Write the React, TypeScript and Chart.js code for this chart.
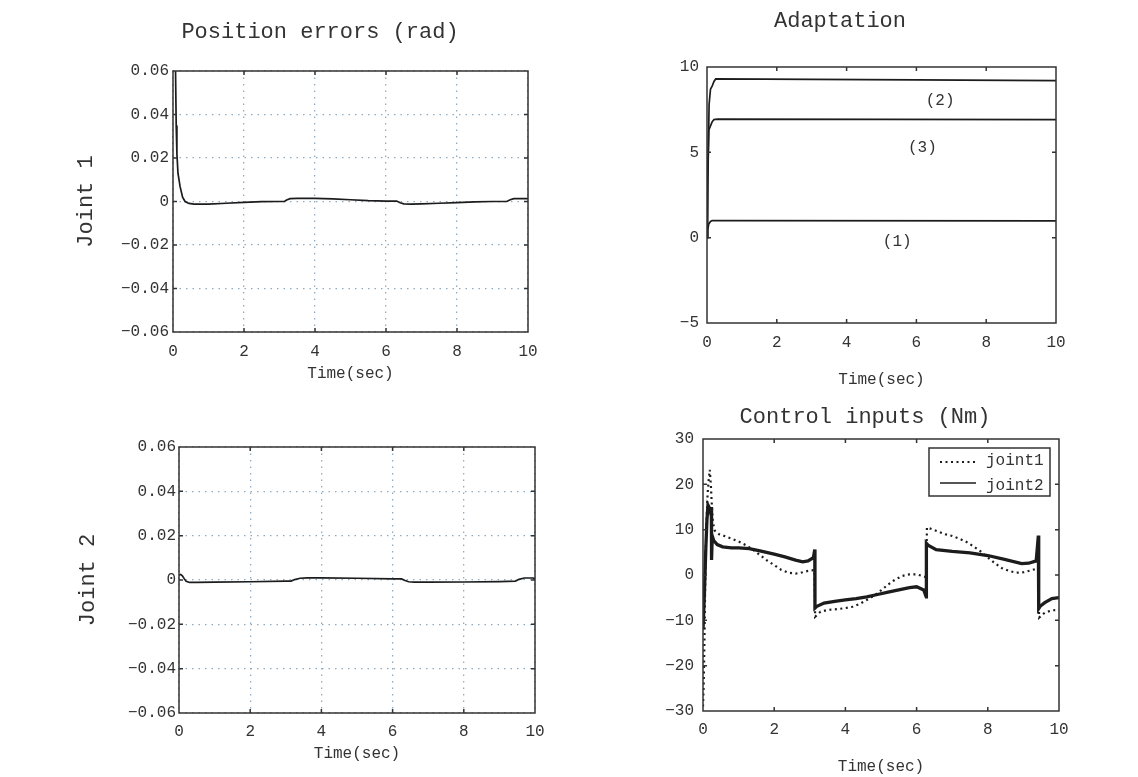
import React, { useEffect, useRef } from 'react';
import { Chart, registerables } from 'chart.js';
Chart.register(...registerables);

const FONT = '"Liberation Mono", "DejaVu Sans Mono", monospace';
const INK = '#333333';
const LINE = '#1c1c1c';
const GRID = '#8fabc2';

// ---------- data ----------
const timeTicks = [0, 2, 4, 6, 8, 10];
const errTicks = [-0.06, -0.04, -0.02, 0, 0.02, 0.04, 0.06];
const adaptTicks = [-5, 0, 5, 10];
const torqueTicks = [-30, -20, -10, 0, 10, 20, 30];

const err1T = [0, 0.07, 0.09, 0.11, 0.14, 0.2, 0.27, 0.34, 0.45, 0.6, 1.0, 1.5, 2.0, 2.5, 3.0, 3.14, 3.2, 3.3, 3.5, 4.0, 4.5, 5.0, 5.5, 6.0, 6.3, 6.4, 6.5, 6.7, 7.0, 7.5, 8.0, 8.5, 9.0, 9.4, 9.5, 9.6, 10];
const err1V = [0.07, 0.062, 0.035, 0.022, 0.013, 0.0068, 0.002, 0.0, -0.0009, -0.0012, -0.0012, -0.0008, -0.0004, -0.0001, 0.0, 0.0, 0.0007, 0.0013, 0.0014, 0.0014, 0.0012, 0.0008, 0.0004, 0.0002, 0.0002, -0.0006, -0.0011, -0.0012, -0.0011, -0.0008, -0.0005, -0.0002, 0.0, 0.0, 0.0008, 0.0013, 0.0013];

const err2T = [0, 0.05, 0.1, 0.15, 0.2, 0.3, 0.5, 1, 2, 3, 3.15, 3.25, 3.4, 3.6, 4, 5, 6, 6.25, 6.35, 6.45, 6.6, 7, 8, 9, 9.45, 9.55, 9.7, 9.95, 10];
const err2V = [0.0022, 0.0025, 0.0018, 0.0005, -0.0006, -0.0011, -0.0011, -0.001, -0.0008, -0.0005, -0.0005, 0.0002, 0.0008, 0.001, 0.001, 0.0008, 0.0005, 0.0005, -0.0002, -0.0008, -0.001, -0.001, -0.0009, -0.0007, -0.0005, 0.0003, 0.0009, 0.0009, 0.0002];

const adapt1T = [0, 0.02, 0.05, 0.1, 0.15, 0.3, 10];
const adapt1V = [0, 0.45, 0.8, 0.95, 1.0, 1.0, 0.98];
const adapt2T = [0, 0.03, 0.06, 0.1, 0.15, 0.2, 0.25, 3, 6, 10];
const adapt2V = [0, 4, 7.8, 8.7, 8.9, 9.15, 9.3, 9.28, 9.25, 9.2];
const adapt3T = [0, 0.02, 0.05, 0.1, 0.15, 0.2, 0.3, 10];
const adapt3V = [0, 3.5, 6.3, 6.55, 6.8, 6.92, 6.95, 6.92];
const adaptLabels = ['(1)', '(2)', '(3)'];
const adaptLabelT = [5.45, 6.68, 6.17];
const adaptLabelV = [-0.25, 8.0, 5.25];

const joint1T = [0, 0.02, 0.04, 0.06, 0.08, 0.1, 0.13, 0.16, 0.19, 0.22, 0.25, 0.28, 0.33, 0.45, 0.6, 0.8, 1.0, 1.2, 1.4, 1.6, 1.8, 2.0, 2.2, 2.4, 2.6, 2.8, 3.0, 3.13, 3.15, 3.3, 3.5, 3.8, 4.0, 4.2, 4.4, 4.6, 4.8, 5.0, 5.2, 5.4, 5.6, 5.8, 6.0, 6.2, 6.27, 6.29, 6.4, 6.6, 6.8, 7.0, 7.2, 7.4, 7.6, 7.8, 8.0, 8.2, 8.4, 8.6, 8.8, 9.0, 9.2, 9.42, 9.44, 9.6, 9.8, 10];
const joint1V = [-29, -24, -15, -3, 6, 12, 18, 21, 23.2, 20, 15, 11.5, 9.8, 9.0, 8.6, 8.0, 7.4, 6.6, 5.6, 4.4, 3.2, 2.2, 1.1, 0.5, 0.3, 0.6, 1.0, 1.1, -9.2, -8.1, -7.7, -7.5, -7.3, -7.0, -6.4, -5.5, -4.6, -3.4, -2.1, -1.0, -0.2, 0.15, 0.15, -0.3, -0.5, 10.5, 10.2, 9.6, 9.0, 8.6, 8.0, 7.3, 6.3, 5.2, 3.9, 2.6, 1.5, 0.9, 0.5, 0.6, 1.0, 1.5, -9.4, -8.3, -7.8, -7.7];

const joint2T = [0, 0.04, 0.08, 0.11, 0.14, 0.18, 0.22, 0.235, 0.24, 0.26, 0.3, 0.4, 0.55, 0.8, 1.0, 1.3, 1.6, 2.0, 2.3, 2.6, 2.8, 2.95, 3.1, 3.14, 3.145, 3.2, 3.4, 3.7, 4.0, 4.3, 4.6, 4.9, 5.2, 5.5, 5.8, 6.0, 6.2, 6.27, 6.275, 6.32, 6.55, 7.0, 7.5, 8.0, 8.5, 8.95, 9.15, 9.36, 9.42, 9.43, 9.47, 9.6, 9.8, 10];
const joint2V = [-12, -4, 6, 12, 15.4, 14.8, 13.5, 15.0, 3.3, 8.6, 7.6, 6.7, 6.2, 6.0, 6.0, 5.8, 5.3, 4.6, 4.0, 3.3, 2.9, 3.1, 3.8, 5.6, -7.3, -6.9, -6.2, -5.8, -5.5, -5.2, -4.8, -4.3, -3.8, -3.3, -2.8, -2.6, -3.3, -4.8, 7.0, 6.6, 5.6, 5.2, 4.9, 4.3, 3.4, 2.5, 2.6, 3.1, 8.7, -7.4, -6.9, -6.1, -5.2, -5.0];

// ---------- helpers ----------
type Box = { left: number; top: number; width: number; height: number };
type TextItem = { text: string; x: number; y: number; size: number };

const pts = (t: number[], v: number[]) => t.map((x, i) => ({ x, y: v[i] }));

const fmt = (dec: number) => (v: any) => {
  const n = Number(v);
  if (Math.abs(n) < 1e-9) return '0';
  return (n < 0 ? '\u2212' : '') + Math.abs(n).toFixed(dec);
};

const framePlugin = {
  id: 'frame',
  afterDatasetsDraw(chart: any) {
    const { ctx, chartArea: a, scales } = chart;
    ctx.save();
    ctx.strokeStyle = INK;
    ctx.lineWidth = 1.5;
    ctx.setLineDash([]);
    ctx.strokeRect(a.left, a.top, a.right - a.left, a.bottom - a.top);
    const tl = 4;
    ctx.beginPath();
    scales.x.ticks.forEach((t: any) => {
      const p = scales.x.getPixelForValue(t.value);
      if (p <= a.left + 1 || p >= a.right - 1) return;
      ctx.moveTo(p, a.bottom); ctx.lineTo(p, a.bottom - tl);
      ctx.moveTo(p, a.top); ctx.lineTo(p, a.top + tl);
    });
    scales.y.ticks.forEach((t: any) => {
      const p = scales.y.getPixelForValue(t.value);
      if (p <= a.top + 1 || p >= a.bottom - 1) return;
      ctx.moveTo(a.left, p); ctx.lineTo(a.left + tl, p);
      ctx.moveTo(a.right, p); ctx.lineTo(a.right - tl, p);
    });
    ctx.stroke();
    ctx.restore();
  },
};

const textPlugin = (items: TextItem[], box: Box) => ({
  id: 'pageText',
  afterDraw(chart: any) {
    const { ctx } = chart;
    ctx.save();
    ctx.fillStyle = INK;
    ctx.textAlign = 'center';
    ctx.textBaseline = 'middle';
    items.forEach((it) => {
      ctx.font = `${it.size}px ${FONT}`;
      ctx.fillText(it.text, it.x - box.left, it.y - box.top);
    });
    ctx.restore();
  },
});

const annotPlugin = {
  id: 'annot',
  afterDatasetsDraw(chart: any) {
    const { ctx, scales } = chart;
    ctx.save();
    ctx.fillStyle = INK;
    ctx.font = `16px ${FONT}`;
    ctx.textAlign = 'center';
    ctx.textBaseline = 'middle';
    adaptLabels.forEach((s, i) => {
      ctx.fillText(s, scales.x.getPixelForValue(adaptLabelT[i]), scales.y.getPixelForValue(adaptLabelV[i]));
    });
    ctx.restore();
  },
};

const legendPlugin = {
  id: 'boxLegend',
  afterDraw(chart: any) {
    const { ctx, chartArea: a } = chart;
    const w = 121, h = 48;
    const left = a.right - 9 - w;
    const top = a.top + 9;
    ctx.save();
    ctx.fillStyle = '#ffffff';
    ctx.fillRect(left, top, w, h);
    ctx.strokeStyle = INK;
    ctx.lineWidth = 1.5;
    ctx.setLineDash([]);
    ctx.strokeRect(left, top, w, h);
    chart.data.datasets.forEach((ds: any, i: number) => {
      const ly = top + (i === 0 ? 14 : 35);
      ctx.beginPath();
      ctx.strokeStyle = LINE;
      ctx.setLineDash(ds.borderDash || []);
      ctx.lineWidth = i === 0 ? 2 : 1.5;
      ctx.moveTo(left + 11, ly);
      ctx.lineTo(left + 47, ly);
      ctx.stroke();
      ctx.setLineDash([]);
      ctx.fillStyle = INK;
      ctx.font = `16px ${FONT}`;
      ctx.textAlign = 'left';
      ctx.textBaseline = 'middle';
      ctx.fillText(ds.label, left + 57, top + (i === 0 ? 13 : 38));
    });
    ctx.restore();
  },
};

type PanelSpec = {
  box: Box;
  pad: { left: number; top: number; right: number; bottom: number };
  yw: number;
  xh: number;
  xpad: number;
  ypad: number;
  grid: boolean;
  yTicks: number[];
  yDec: number;
  yTitle?: string;
  datasets: any[];
  texts: TextItem[];
  extra: any[];
};

function buildChart(canvas: HTMLCanvasElement, s: PanelSpec) {
  const yT = s.yTicks;
  return new Chart(canvas, {
    type: 'line',
    data: { datasets: s.datasets },
    options: {
      animation: false,
      responsive: false,
      devicePixelRatio: 1,
      layout: { padding: s.pad },
      elements: { point: { radius: 0 }, line: { tension: 0 } },
      plugins: { legend: { display: false }, tooltip: { enabled: false }, title: { display: false } },
      scales: {
        x: {
          type: 'linear',
          min: 0,
          max: 10,
          afterBuildTicks: (sc: any) => { sc.ticks = timeTicks.map((v) => ({ value: v })); },
          afterFit: (sc: any) => { sc.height = s.xh; },
          ticks: { padding: s.xpad, autoSkip: false, maxRotation: 0, color: INK, font: { family: FONT, size: 16 }, callback: fmt(0) },
          grid: { display: s.grid, color: GRID, lineWidth: 1.3, drawTicks: false },
          border: { display: false, dash: [1.5, 5] },
          title: { display: true, text: 'Time(sec)', color: INK, font: { family: FONT, size: 16 }, padding: 0 },
        },
        y: {
          type: 'linear',
          min: yT[0],
          max: yT[yT.length - 1],
          afterBuildTicks: (sc: any) => { sc.ticks = yT.map((v) => ({ value: v })); },
          afterFit: (sc: any) => { sc.width = s.yw; },
          ticks: { padding: s.ypad, autoSkip: false, color: INK, font: { family: FONT, size: 16 }, callback: fmt(s.yDec) },
          grid: { display: s.grid, color: GRID, lineWidth: 1.3, drawTicks: false },
          border: { display: false, dash: [1.5, 5] },
          title: { display: !!s.yTitle, text: s.yTitle || '', color: INK, font: { family: FONT, size: 22 }, padding: 0 },
        },
      },
    } as any,
    plugins: [framePlugin, textPlugin(s.texts, s.box), ...s.extra],
  });
}

function Panel({ spec }: { spec: PanelSpec }) {
  const ref = useRef<HTMLCanvasElement>(null);
  useEffect(() => {
    const ch = buildChart(ref.current as HTMLCanvasElement, spec);
    return () => ch.destroy();
  }, []);
  const b = spec.box;
  return (
    <canvas
      ref={ref}
      width={b.width}
      height={b.height}
      style={{ position: 'absolute', left: b.left, top: b.top, width: b.width, height: b.height }}
    />
  );
}

const thin = (data: any, w = 1.7) => ({ data, borderColor: LINE, borderWidth: w, pointRadius: 0, fill: false });

const specA: PanelSpec = {
  box: { left: 0, top: 0, width: 580, height: 390 },
  pad: { left: 73, top: 71, right: 52, bottom: 7 },
  yw: 100, xh: 51, xpad: 10, ypad: 4, grid: true,
  yTicks: errTicks, yDec: 2, yTitle: 'Joint 1',
  datasets: [thin(pts(err1T, err1V))],
  texts: [{ text: 'Position errors (rad)', x: 320, y: 32, size: 22 }],
  extra: [],
};

const specB: PanelSpec = {
  box: { left: 600, top: 0, width: 538, height: 395 },
  pad: { left: 47, top: 67, right: 82, bottom: 6 },
  yw: 60, xh: 66, xpad: 10, ypad: 8, grid: false,
  yTicks: adaptTicks, yDec: 0,
  datasets: [thin(pts(adapt1T, adapt1V)), thin(pts(adapt2T, adapt2V)), thin(pts(adapt3T, adapt3V))],
  texts: [{ text: 'Adaptation', x: 840, y: 21, size: 22 }],
  extra: [annotPlugin],
};

const specC: PanelSpec = {
  box: { left: 0, top: 395, width: 580, height: 382 },
  pad: { left: 75, top: 52, right: 45, bottom: 14 },
  yw: 104, xh: 50, xpad: 9, ypad: 3, grid: true,
  yTicks: errTicks, yDec: 2, yTitle: 'Joint 2',
  datasets: [thin(pts(err2T, err2V))],
  texts: [],
  extra: [],
};

const specD: PanelSpec = {
  box: { left: 600, top: 395, width: 538, height: 382 },
  pad: { left: 43, top: 44, right: 79, bottom: 1 },
  yw: 60, xh: 65, xpad: 9, ypad: 9, grid: false,
  yTicks: torqueTicks, yDec: 0,
  datasets: [
    { label: 'joint1', data: pts(joint1T, joint1V), borderColor: LINE, borderWidth: 2.2, borderDash: [2, 3.5], pointRadius: 0, fill: false },
    { label: 'joint2', data: pts(joint2T, joint2V), borderColor: LINE, borderWidth: 3.3, pointRadius: 0, fill: false },
  ],
  texts: [{ text: 'Control inputs (Nm)', x: 865, y: 417, size: 22 }],
  extra: [legendPlugin],
};

export default function App() {
  return (
    <div style={{ position: 'absolute', left: 0, top: 0, width: 1138, height: 777, background: '#ffffff', overflow: 'hidden' }}>
      <Panel spec={specA} />
      <Panel spec={specB} />
      <Panel spec={specC} />
      <Panel spec={specD} />
    </div>
  );
}
